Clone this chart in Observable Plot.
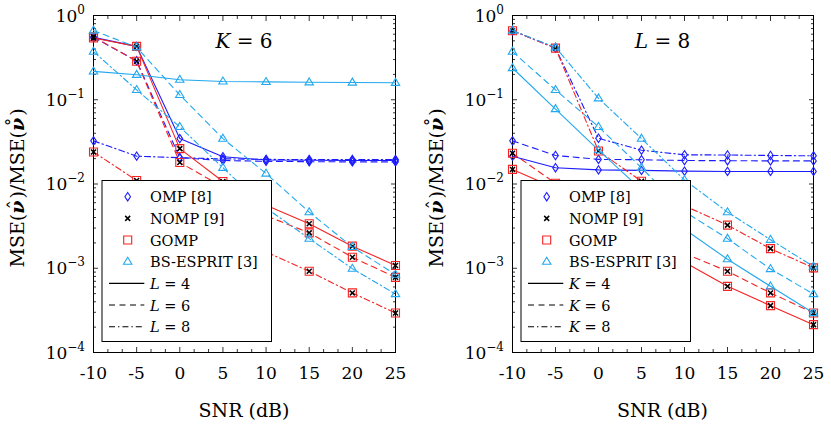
<!DOCTYPE html>
<html><head><meta charset="utf-8">
<script src="https://cdn.jsdelivr.net/npm/d3@7"></script>
<script src="https://cdn.jsdelivr.net/npm/@observablehq/plot@0.6"></script>
<style>
body{margin:0;background:#fff;}
#wrap{position:relative;width:831px;height:428px;overflow:hidden;background:#fff;}
#wrap svg{position:absolute;top:0;}
#wrap svg text, #wrap svg tspan{font-family:"DejaVu Serif","Liberation Serif",serif !important;}
</style></head><body><div id="wrap"></div>
<script>
// ---- data ----
const snr = [-10, -5, 0, 5, 10, 15, 20, 25];
const xTicks = [-10, -5, 0, 5, 10, 15, 20, 25];
const yTicks = [1e-4, 1e-3, 1e-2, 1e-1, 1];
const yTickExponents = ["−4", "−3", "−2", "−1", "0"];

// Left panel: K = 6, L = 4 / 6 / 8
const omp_K6_L4 = [0.55, 0.43, 0.0346, 0.0211, 0.0193, 0.0191, 0.0190, 0.0190];
const omp_K6_L6 = [0.55, 0.29, 0.0205, 0.0190, 0.0186, 0.0184, 0.0183, 0.0183];
const omp_K6_L8 = [0.0325, 0.0214, 0.0205, 0.0199, 0.0196, 0.0195, 0.0195, 0.0195];
const nomp_K6_L4 = [0.54, 0.43, 0.0263, 0.0107, 0.0056, 0.00337, 0.00183, 0.00108];
const nomp_K6_L6 = [0.56, 0.286, 0.018, 0.0092, 0.0042, 0.00263, 0.00135, 0.00078];
const nomp_K6_L8 = [0.024, 0.011, 0.0057, 0.0030, 0.00156, 0.00092, 0.00051, 0.000294];
const gomp_K6_L4 = [0.54, 0.43, 0.0263, 0.0107, 0.0056, 0.00337, 0.00183, 0.00108];
const gomp_K6_L6 = [0.56, 0.286, 0.018, 0.0092, 0.0042, 0.00263, 0.00135, 0.00078];
const gomp_K6_L8 = [0.024, 0.011, 0.0057, 0.0030, 0.00156, 0.00092, 0.00051, 0.000294];
const esprit_K6_L4 = [0.217, 0.198, 0.173, 0.165, 0.163, 0.161, 0.160, 0.159];
const esprit_K6_L6 = [0.663, 0.42, 0.114, 0.0346, 0.0133, 0.00464, 0.00179, 0.00084];
const esprit_K6_L8 = [0.373, 0.131, 0.0477, 0.0156, 0.0052, 0.00225, 0.00099, 0.000494];

// Right panel: L = 8, K = 4 / 6 / 8
const omp_L8_K4 = [0.0214, 0.0156, 0.0147, 0.0145, 0.0142, 0.0141, 0.0141, 0.0141];
const omp_L8_K6 = [0.0325, 0.0218, 0.0196, 0.0194, 0.0190, 0.0189, 0.0188, 0.0188];
const omp_L8_K8 = [0.66, 0.41, 0.0349, 0.0252, 0.0222, 0.0221, 0.0218, 0.0216];
const nomp_L8_K4 = [0.0149, 0.0089, 0.0045, 0.0022, 0.00118, 0.00061, 0.00036, 0.000214];
const nomp_L8_K6 = [0.0232, 0.0102, 0.0056, 0.0030, 0.0015, 0.00092, 0.00051, 0.000294];
const nomp_L8_K8 = [0.66, 0.41, 0.0246, 0.0108, 0.0055, 0.00325, 0.00171, 0.00101];
const gomp_L8_K4 = [0.0149, 0.0089, 0.0045, 0.0022, 0.00118, 0.00061, 0.00036, 0.000214];
const gomp_L8_K6 = [0.0232, 0.0102, 0.0056, 0.0030, 0.0015, 0.00092, 0.00051, 0.000294];
const gomp_L8_K8 = [0.66, 0.41, 0.0246, 0.0108, 0.0055, 0.00325, 0.00171, 0.00101];
const esprit_L8_K4 = [0.238, 0.0776, 0.0252, 0.0085, 0.0029, 0.00128, 0.00061, 0.000294];
const esprit_L8_K6 = [0.373, 0.131, 0.0477, 0.0156, 0.0047, 0.00225, 0.00098, 0.000494];
const esprit_L8_K8 = [0.663, 0.42, 0.104, 0.0346, 0.0112, 0.00464, 0.00218, 0.00105];

const methods = ["OMP", "GOMP", "NOMP", "BS-ESPRIT"];
const legendMethods = ["OMP [8]", "NOMP [9]", "GOMP", "BS-ESPRIT [3]"];
const styles = ["solid", "dashed", "dashdot"];

// ---- styling ----
const FONT = "DejaVu Serif, Liberation Serif, serif";
const colors = {"OMP": "#1c1cff", "NOMP": "#000000", "GOMP": "#f52323", "BS-ESPRIT": "#22a8ee"};
const dashes = {solid: null, dashed: "6,4.5", dashdot: "6,3,1.4,3"};

const diamondSym = {draw(c, s){ const r = Math.sqrt(s/Math.PI); c.moveTo(0,-r*1.05); c.lineTo(r*0.7,0); c.lineTo(0,r*1.05); c.lineTo(-r*0.7,0); c.closePath(); }};
const squareSym = {draw(c, s){ const r = Math.sqrt(s/Math.PI); c.moveTo(-r,-r); c.lineTo(r,-r); c.lineTo(r,r); c.lineTo(-r,r); c.closePath(); }};
const triSym = {draw(c, s){ const r = Math.sqrt(s/Math.PI); c.moveTo(0,-r*1.1); c.lineTo(r*1.05,r*0.65); c.lineTo(-r*1.05,r*0.65); c.closePath(); }};
const timesSym = {draw(c, s){ const r = Math.sqrt(s/Math.PI)*0.62; c.moveTo(-r,-r); c.lineTo(r,r); c.moveTo(r,-r); c.lineTo(-r,r); }};
const symbols = {"OMP": diamondSym, "NOMP": timesSym, "GOMP": squareSym, "BS-ESPRIT": triSym};
const legendSymbolKeys = ["OMP", "NOMP", "GOMP", "BS-ESPRIT"];

const M = {top: 15, bottom: 76, left: 93, right: 20};
const H = 428;
const FS = {tick: 17, sup: 12, axis: 19, legend: 14.5, note: 20};

function buildPanel(cfg) {
  const data = cfg.series.flatMap(s => s.values.map((v, i) => ({method: s.method, style: s.style, snr: snr[i], value: v})));
  const minorX = d3.range(0, 22).map(k => -10 + k * 5 / 3).filter((v, k) => k % 3 !== 0 && v < 25);
  const minorY = [];
  for (let e = -4; e < 0; e++) for (let m = 2; m <= 9; m++) minorY.push(m * Math.pow(10, e));
  const tk = {stroke: "black", strokeWidth: 0.8, fill: "none", label: null};
  const marks = [
    Plot.frame({stroke: "black", strokeWidth: 1}),
    Plot.axisX(xTicks, {...tk, anchor: "bottom", tickSize: -5}),
    Plot.axisX(xTicks, {...tk, anchor: "top", tickSize: -5}),
    Plot.axisX(minorX, {...tk, anchor: "bottom", tickSize: -3}),
    Plot.axisX(minorX, {...tk, anchor: "top", tickSize: -3}),
    Plot.axisY(yTicks, {...tk, anchor: "left", tickSize: -5}),
    Plot.axisY(yTicks, {...tk, anchor: "right", tickSize: -5}),
    Plot.axisY(minorY, {...tk, anchor: "left", tickSize: -3}),
    Plot.axisY(minorY, {...tk, anchor: "right", tickSize: -3}),
    Plot.axisX(xTicks, {anchor: "bottom", tickSize: 0, tickPadding: 14, tickFormat: d => String(d), fontSize: FS.tick, label: null})
  ];
  for (const m of methods) {
    if (m !== "NOMP") {
      for (const st of styles) {
        marks.push(Plot.line(data.filter(d => d.method === m && d.style === st),
          {x: "snr", y: "value", stroke: colors[m], strokeWidth: 1.1, strokeDasharray: dashes[st]}));
      }
    }
    marks.push(Plot.dot(data.filter(d => d.method === m),
      {x: "snr", y: "value", symbol: symbols[m], r: 4, stroke: colors[m], fill: "none",
       strokeWidth: m === "NOMP" ? 1.5 : 1.1}));
  }
  const chart = Plot.plot({
    width: cfg.width, height: H,
    marginTop: M.top, marginBottom: M.bottom, marginLeft: M.left, marginRight: M.right,
    x: {domain: [-10, 25], axis: null},
    y: {type: "log", domain: [1e-4, 1], axis: null},
    style: {fontFamily: FONT, background: "white", color: "black", overflow: "visible"},
    marks
  });
  chart.style.left = cfg.left + "px";
  const svg = d3.select(chart);
  const ys = chart.scale("y");
  const fx0 = M.left, fx1 = cfg.width - M.right, fy0 = M.top;
  const cx = (fx0 + fx1) / 2;
  const g = svg.append("g").attr("font-family", FONT).attr("fill", "black").attr("text-anchor", "start");
  // y tick labels
  yTicks.forEach((v, i) => {
    const t = g.append("text").attr("x", fx0 - 8).attr("y", ys.apply(v) + 6.5)
      .attr("text-anchor", "end").attr("font-size", FS.tick).text("10");
    t.append("tspan").attr("dy", -8).attr("font-size", FS.sup).text(yTickExponents[i]);
  });
  // y label (accents placed as separate glyphs)
  const yl = g.append("text").attr("transform", `translate(24,188) rotate(-90)`)
    .attr("text-anchor", "middle").attr("font-size", FS.axis);
  yl.append("tspan").text("MSE(");
  yl.append("tspan").attr("font-weight", "bold").attr("font-style", "italic").text("ν");
  yl.append("tspan").attr("dx", -9).attr("dy", -2).attr("font-size", FS.axis).text("ˆ");
  yl.append("tspan").attr("dx", 1.5).attr("dy", 2).text(")/MSE(");
  yl.append("tspan").attr("font-weight", "bold").attr("font-style", "italic").text("ν");
  yl.append("tspan").attr("dx", -9).attr("dy", -2).attr("font-size", FS.axis).text("˚");
  yl.append("tspan").attr("dx", 1.5).attr("dy", 2).text(")");
  // x label
  g.append("text").attr("x", cx).attr("y", 417).attr("text-anchor", "middle")
    .attr("font-size", FS.axis).text("SNR (dB)");
  // annotation
  const an = g.append("text").attr("x", cx).attr("y", 48).attr("text-anchor", "middle").attr("font-size", FS.note);
  an.append("tspan").attr("font-style", "italic").text(cfg.fixedVar);
  an.append("tspan").text(" = " + cfg.fixedVal);
  // legend
  const lg = g.append("g");
  lg.append("rect").attr("x", fx0 + 9).attr("y", fy0 + 165.5).attr("width", 169.5).attr("height", 161)
    .attr("fill", "white").attr("stroke", "black").attr("stroke-width", 1);
  const rowY = i => fy0 + 181.7 + i * 21.67;
  legendMethods.forEach((name, i) => {
    const key = legendSymbolKeys[i];
    const p = d3.path(); symbols[key].draw(p, 16 * Math.PI);
    lg.append("path").attr("d", p.toString()).attr("transform", `translate(${fx0 + 34.7},${rowY(i)})`)
      .attr("fill", "none").attr("stroke", colors[key]).attr("stroke-width", key === "NOMP" ? 1.5 : 1.1);
    lg.append("text").attr("x", fx0 + 57).attr("y", rowY(i) + 5.5).attr("text-anchor", "start")
      .attr("font-size", FS.legend).text(name);
  });
  styles.forEach((st, j) => {
    const i = 4 + j;
    lg.append("line").attr("x1", fx0 + 16).attr("x2", fx0 + 51.3).attr("y1", rowY(i)).attr("y2", rowY(i))
      .attr("stroke", "black").attr("stroke-width", 1.1).attr("stroke-dasharray", dashes[st]);
    const t = lg.append("text").attr("x", fx0 + 57).attr("y", rowY(i) + 5.5).attr("text-anchor", "start")
      .attr("font-size", FS.legend);
    t.append("tspan").attr("font-style", "italic").text(cfg.varName);
    t.append("tspan").text(" = " + cfg.varVals[j]);
  });
  return chart;
}

const wrap = document.getElementById("wrap");
wrap.appendChild(buildPanel({
  left: 0, width: 415, fixedVar: "K", fixedVal: "6", varName: "L", varVals: ["4", "6", "8"],
  series: [
    {method: "OMP", style: "solid", values: omp_K6_L4},
    {method: "OMP", style: "dashed", values: omp_K6_L6},
    {method: "OMP", style: "dashdot", values: omp_K6_L8},
    {method: "NOMP", style: "solid", values: nomp_K6_L4},
    {method: "NOMP", style: "dashed", values: nomp_K6_L6},
    {method: "NOMP", style: "dashdot", values: nomp_K6_L8},
    {method: "GOMP", style: "solid", values: gomp_K6_L4},
    {method: "GOMP", style: "dashed", values: gomp_K6_L6},
    {method: "GOMP", style: "dashdot", values: gomp_K6_L8},
    {method: "BS-ESPRIT", style: "solid", values: esprit_K6_L4},
    {method: "BS-ESPRIT", style: "dashed", values: esprit_K6_L6},
    {method: "BS-ESPRIT", style: "dashdot", values: esprit_K6_L8}
  ]
}));
wrap.appendChild(buildPanel({
  left: 419, width: 414, fixedVar: "L", fixedVal: "8", varName: "K", varVals: ["4", "6", "8"],
  series: [
    {method: "OMP", style: "solid", values: omp_L8_K4},
    {method: "OMP", style: "dashed", values: omp_L8_K6},
    {method: "OMP", style: "dashdot", values: omp_L8_K8},
    {method: "NOMP", style: "solid", values: nomp_L8_K4},
    {method: "NOMP", style: "dashed", values: nomp_L8_K6},
    {method: "NOMP", style: "dashdot", values: nomp_L8_K8},
    {method: "GOMP", style: "solid", values: gomp_L8_K4},
    {method: "GOMP", style: "dashed", values: gomp_L8_K6},
    {method: "GOMP", style: "dashdot", values: gomp_L8_K8},
    {method: "BS-ESPRIT", style: "solid", values: esprit_L8_K4},
    {method: "BS-ESPRIT", style: "dashed", values: esprit_L8_K6},
    {method: "BS-ESPRIT", style: "dashdot", values: esprit_L8_K8}
  ]
}));
</script></body></html>
